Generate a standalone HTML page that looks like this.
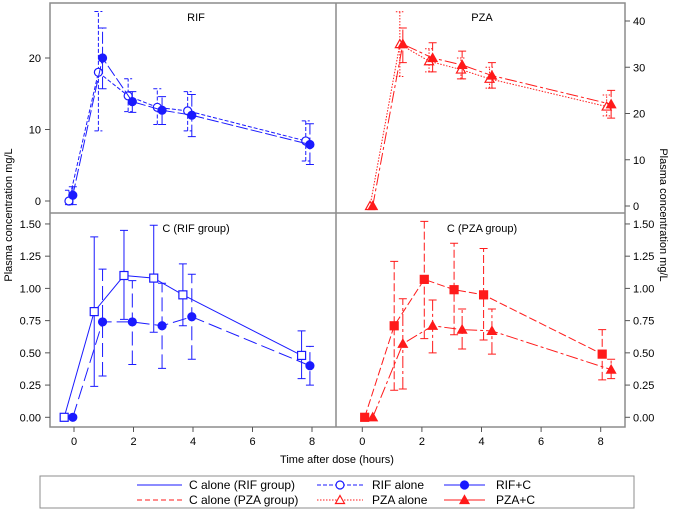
<!DOCTYPE html>
<html><head><meta charset="utf-8"><style>
body{margin:0;background:#fff;width:675px;height:510px;overflow:hidden}
svg{font-family:"Liberation Sans",sans-serif;font-size:11px}
</style></head><body>
<svg id="c" width="675" height="510"></svg>
<script>
const rifAloneX=[-0.17,0.82,1.82,2.8,3.82,7.79];
const rifAloneY=[0,18,14.7,13.1,12.6,8.4];
const rifAloneLo=[-0.5,9.8,12.5,10.7,9.8,5.6];
const rifAloneHi=[1.5,26.5,17.1,15.7,15.3,11.2];
const rifCX=[-0.04,0.96,1.96,2.96,3.96,7.93];
const rifCY=[0.8,20,13.9,12.7,12,7.9];
const rifCLo=[-0.5,15.7,12.4,10.7,9,5.1];
const rifCHi=[2,24.2,15.3,14.6,14.9,10.8];
const pzaAloneX=[0.26,1.26,2.24,3.31,4.27,8.2];
const pzaAloneY=[0,35,31.3,29.5,27.5,21.5];
const pzaAloneLo=[0,28,29,27.5,25.5,19.5];
const pzaAloneHi=[0,42,34,32,30,24];
const pzaCX=[0.35,1.36,2.36,3.35,4.35,8.35];
const pzaCY=[0,35,32,30.5,28.2,22];
const pzaCLo=[0,31,29,27.5,25.5,19];
const pzaCHi=[0,38.5,35.3,33.5,31,25];
const cRifX=[-0.33,0.68,1.68,2.68,3.66,7.65];
const cRifY=[0,0.82,1.10,1.08,0.95,0.48];
const cRifLo=[0,0.24,0.76,0.66,0.71,0.30];
const cRifHi=[0,1.40,1.45,1.49,1.19,0.67];
const cRifCX=[-0.04,0.96,1.96,2.96,3.96,7.93];
const cRifCY=[0,0.74,0.74,0.71,0.78,0.40];
const cRifCLo=[0,0.32,0.41,0.38,0.45,0.25];
const cRifCHi=[0,1.15,1.06,1.04,1.11,0.55];
const cPzaX=[0.08,1.07,2.08,3.08,4.07,8.05];
const cPzaY=[0,0.71,1.07,0.99,0.95,0.49];
const cPzaLo=[0,0.21,0.61,0.64,0.60,0.29];
const cPzaHi=[0,1.21,1.52,1.35,1.31,0.68];
const cPzaCX=[0.35,1.36,2.36,3.35,4.35,8.35];
const cPzaCY=[0,0.57,0.71,0.68,0.67,0.37];
const cPzaCLo=[0,0.22,0.50,0.53,0.49,0.30];
const cPzaCHi=[0,0.92,0.91,0.84,0.84,0.45];
const xTicks=[0,2,4,6,8];
const rifTicks=[0,10,20];
const pzaTicks=[0,10,20,30,40];
const cTicks=[0,0.25,0.5,0.75,1.0,1.25,1.5];

const svg=document.getElementById('c');
const NS='http://www.w3.org/2000/svg';
function el(t,a,p){const e=document.createElementNS(NS,t);for(const k in a)e.setAttribute(k,a[k]);(p||svg).appendChild(e);return e;}
const BLUE='#1a1aff',RED='#ff1a1a',GRID='#8c8c8c';
const xL=t=>74+29.75*t, xR=t=>362.3+29.8*t;
const yRif=v=>201-7.15*v, yPza=v=>206-4.625*v, yC=v=>417.3-128.9*v;

let f=el('rect',{x:50,y:3,width:575,height:424,fill:'none',stroke:GRID,'stroke-width':1.5});

let l1=el('line',{x1:336,y1:3,x2:336,y2:427,stroke:GRID,'stroke-width':1.5});

let l2=el('line',{x1:50,y1:213,x2:625,y2:213,stroke:GRID,'stroke-width':1.5});


function txt(x,y,s,anchor,name,extra){const t=el('text',Object.assign({x:x,y:y,'text-anchor':anchor||'middle',fill:'#000'},extra||{}));t.textContent=s;return t;}

rifTicks.forEach(v=>{el('line',{x1:45,x2:50,y1:yRif(v),y2:yRif(v),stroke:'#555'});txt(41,yRif(v)+4,String(v),'end','y-tick-rif');});
cTicks.forEach(v=>{el('line',{x1:45,x2:50,y1:yC(v),y2:yC(v),stroke:'#555'});txt(41,yC(v)+4,v.toFixed(2),'end','y-tick-c-left');
 el('line',{x1:625,x2:630,y1:yC(v),y2:yC(v),stroke:'#555'});txt(633,yC(v)+4,v.toFixed(2),'start','y-tick-c-right');});
pzaTicks.forEach(v=>{el('line',{x1:625,x2:630,y1:yPza(v),y2:yPza(v),stroke:'#555'});txt(633,yPza(v)+4,String(v),'start','y-tick-pza');});
xTicks.forEach(v=>{el('line',{x1:xL(v),x2:xL(v),y1:427,y2:432,stroke:'#555'});txt(xL(v),445,String(v),'middle','x-tick-left');
 el('line',{x1:xR(v),x2:xR(v),y1:427,y2:432,stroke:'#555'});txt(xR(v),445,String(v),'middle','x-tick-right');});

txt(196,21,'RIF','middle','panel-title-rif');
txt(482,21,'PZA','middle','panel-title-pza');
txt(196,232,'C (RIF group)','middle','panel-title-c-rif');
txt(482,232,'C (PZA group)','middle','panel-title-c-pza');
txt(337,463,'Time after dose (hours)','middle','x-axis-title');
txt(12,215,'Plasma concentration mg/L','middle','y-axis-title-left',{transform:'rotate(-90 12 215)'});
txt(660,215,'Plasma concentration mg/L','middle','y-axis-title-right',{transform:'rotate(90 660 215)'});

function marker(type,x,y,color,name){let m;
 const fill=type.startsWith('open')?'#fff':color;
 if(type.endsWith('circle'))m=el('circle',{cx:x,cy:y,r:4,fill:fill,stroke:color,'stroke-width':1.2});
 else if(type.endsWith('square'))m=el('rect',{x:x-4,y:y-4,width:8,height:8,fill:fill,stroke:color,'stroke-width':1.2});
 else m=el('path',{d:`M${x},${y-4.5}L${x+4.5},${y+3.5}L${x-4.5},${y+3.5}Z`,fill:fill,stroke:color,'stroke-width':1.2});
 }
function series(X,Y,Lo,Hi,xf,yf,color,dash,mk,name){
 const p=el('polyline',{points:X.map((x,i)=>xf(x)+','+yf(Y[i])).join(' '),fill:'none',stroke:color,'stroke-width':1,'stroke-dasharray':dash});
 
 X.forEach((x,i)=>{const px=xf(x);if(Hi[i]!==Lo[i]){
  const e=el('path',{d:`M${px},${yf(Lo[i])}V${yf(Hi[i])}M${px-4},${yf(Lo[i])}H${px+4}M${px-4},${yf(Hi[i])}H${px+4}`,stroke:color,fill:'none','stroke-width':1,'stroke-dasharray':dash});
  }
  marker(mk,px,yf(Y[i]),color,name+'-point');});}
series(rifAloneX,rifAloneY,rifAloneLo,rifAloneHi,xL,yRif,BLUE,'4,2','open-circle','rif-alone');
series(rifCX,rifCY,rifCLo,rifCHi,xL,yRif,BLUE,'12,3','filled-circle','rif-plus-c');
series(pzaAloneX,pzaAloneY,pzaAloneLo,pzaAloneHi,xR,yPza,RED,'1.5,1.5','open-tri','pza-alone');
series(pzaCX,pzaCY,pzaCLo,pzaCHi,xR,yPza,RED,'12,3,3,3','filled-tri','pza-plus-c');
series(cRifX,cRifY,cRifLo,cRifHi,xL,yC,BLUE,'none','open-square','c-alone-rif');
series(cRifCX,cRifCY,cRifCLo,cRifCHi,xL,yC,BLUE,'14,5','filled-circle','c-rif-plus-c');
series(cPzaX,cPzaY,cPzaLo,cPzaHi,xR,yC,RED,'8,3','filled-square','c-alone-pza');
series(cPzaCX,cPzaCY,cPzaCLo,cPzaCHi,xR,yC,RED,'12,3,3,3','filled-tri','c-pza-plus-c');

const lg=el('rect',{x:40,y:476,width:594,height:32,fill:'#fff',stroke:GRID});

const legCols=[[137,182,189],[317,363,372],[444,485,496]];
const legItems=[
 [0,0,'C alone (RIF group)',BLUE,'none',null],[1,0,'RIF alone',BLUE,'4,2','open-circle'],[2,0,'RIF+C',BLUE,'none','filled-circle'],
 [0,1,'C alone (PZA group)',RED,'5,3',null],[1,1,'PZA alone',RED,'1.5,1.5','open-tri'],[2,1,'PZA+C',RED,'none','filled-tri']];
legItems.forEach(it=>{const c=legCols[it[0]];const y=485+it[1]*15;
 const ln=el('line',{x1:c[0],x2:c[1],y1:y,y2:y,stroke:it[3],'stroke-dasharray':it[4]});
 
 if(it[5])marker(it[5],(c[0]+c[1])/2,y,it[3],'legend-marker');
 txt(c[2],y+4,it[2],'start','legend-entry',{'font-size':'12px'});});
</script>
</body></html>
